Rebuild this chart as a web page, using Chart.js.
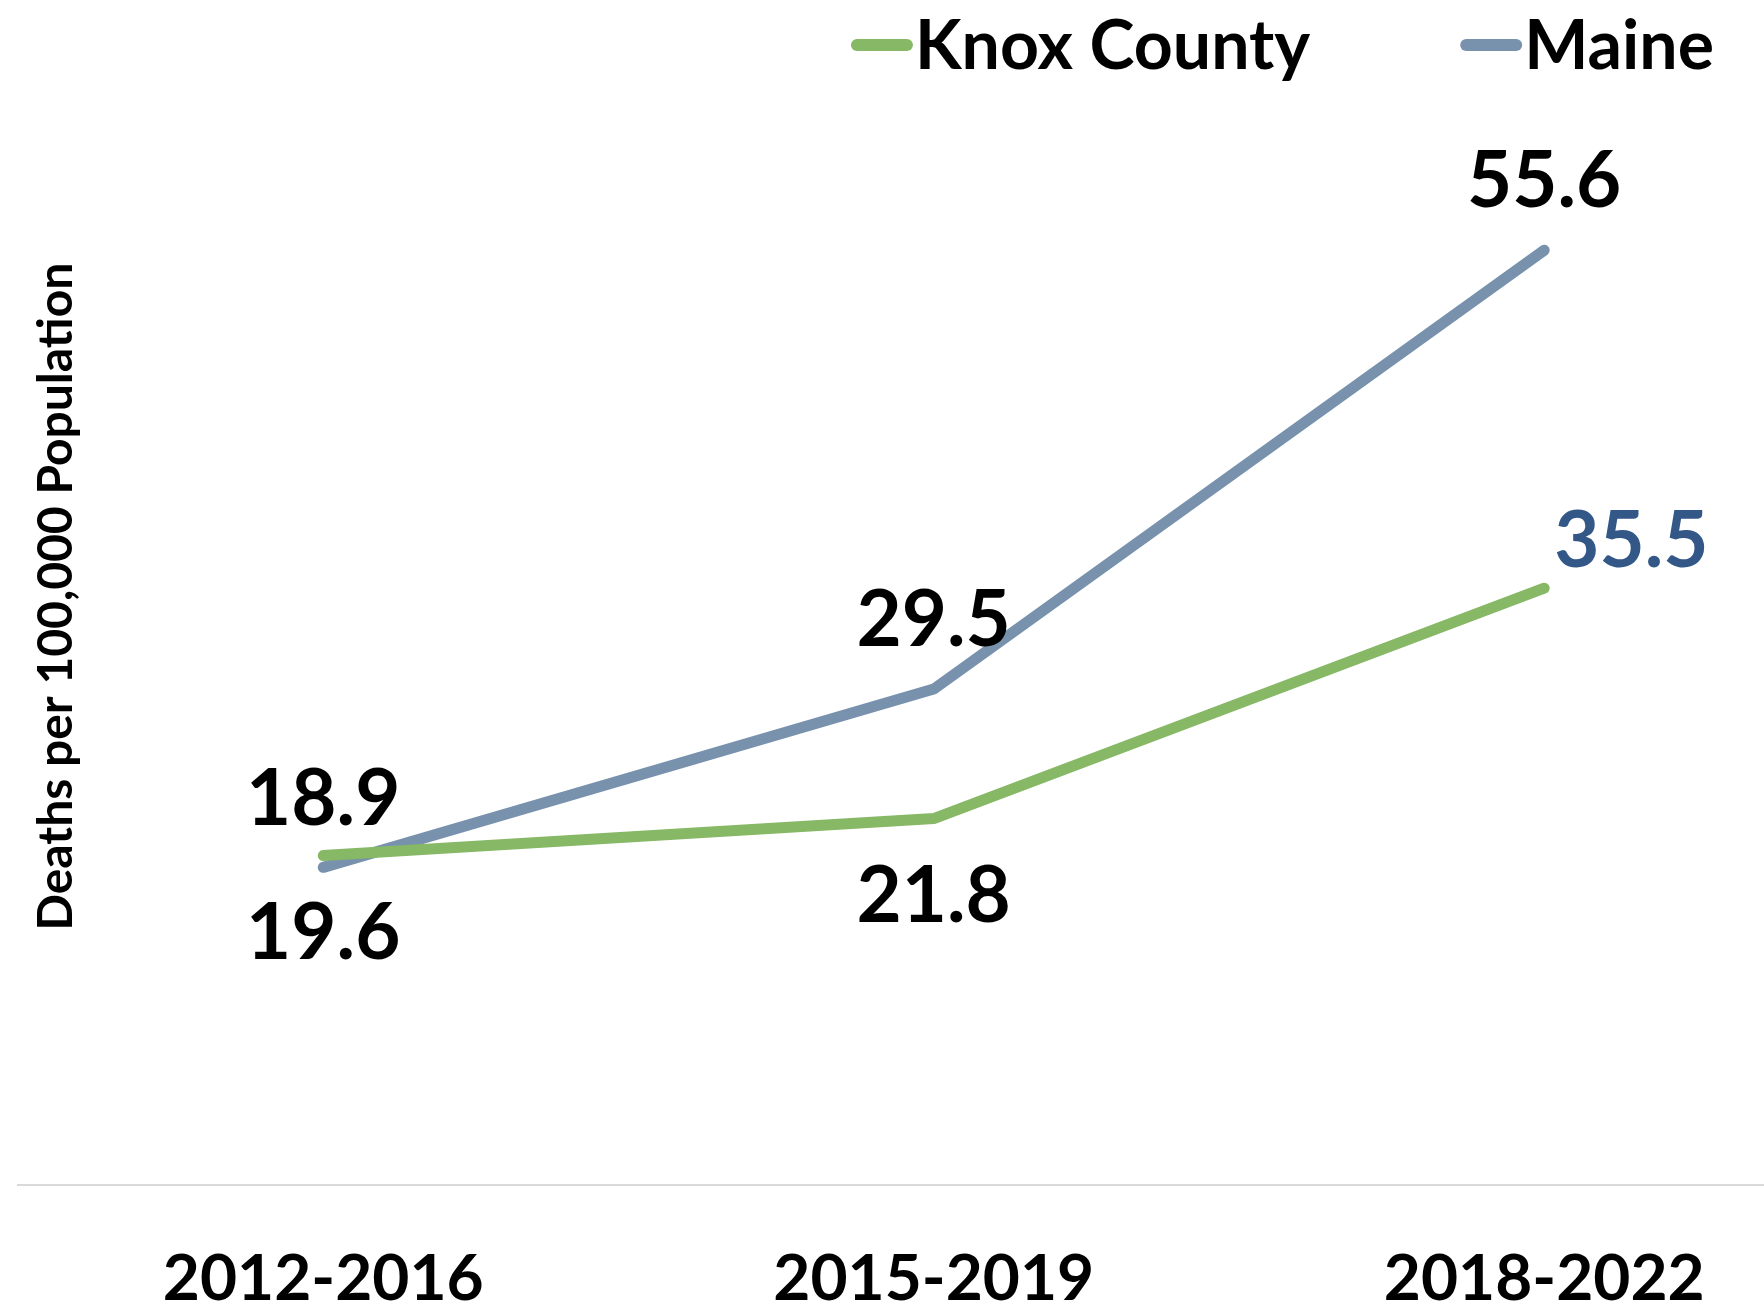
<!DOCTYPE html>
<html>
<head>
<meta charset="utf-8">
<script src="https://cdn.jsdelivr.net/npm/chart.js@4/dist/chart.umd.min.js"></script>
<style>
  html, body { margin: 0; padding: 0; background: #fff; overflow: hidden; }
  #wrap { width: 1764px; height: 1311px; }
</style>
</head>
<body>
<div id="wrap"><canvas id="chart-overdose"></canvas></div>
<script>
const periods = ["2012-2016", "2015-2019", "2018-2022"];
const knoxValues = [19.6, 21.8, 35.5];
const maineValues = [18.9, 29.5, 55.6];
const yMax = 70;

// where each point's value label sits relative to the point
const knoxLabelPos = ["below", "below", "right"];
const maineLabelPos = ["above", "above", "above"];

const fontFamily = "Lato, 'Open Sans', sans-serif";
const green = "#86b865";
const slate = "#7892ad";

const toPoints = (vals) => vals.map((v, i) => ({ x: i, y: v }));

// value labels drawn next to each point
const valueLabels = {
  id: "valueLabels",
  afterDatasetsDraw(chart) {
    const ctx = chart.ctx;
    ctx.save();
    ctx.font = "bold 78px " + fontFamily;
    ctx.textBaseline = "middle";
    chart.data.datasets.forEach((ds, di) => {
      const meta = chart.getDatasetMeta(di);
      meta.data.forEach((pt, i) => {
        const pos = ds.labelPos[i];
        const text = ds.data[i].y.toFixed(1);
        let x = pt.x, y = pt.y;
        ctx.textAlign = "center";
        ctx.fillStyle = "#000";
        if (pos === "above") y -= 68;
        else if (pos === "below") y += 78;
        else {
          ctx.textAlign = "left";
          ctx.fillStyle = "#335888";
          x += 10;
          y -= 46;
        }
        ctx.fillText(text, x, y);
      });
    });
    ctx.restore();
  },
};

// y title laid over the left edge of the plot, plus the legend in the top right
const overlay = {
  id: "overlay",
  afterDraw(chart) {
    const ctx = chart.ctx;
    const area = chart.chartArea;
    ctx.save();
    ctx.translate(area.left + 39, (area.top + area.bottom) / 2);
    ctx.rotate(-Math.PI / 2);
    ctx.font = "bold 48px " + fontFamily;
    ctx.fillStyle = "#000";
    ctx.textAlign = "center";
    ctx.textBaseline = "middle";
    ctx.fillText("Deaths per 100,000 Population", 0, 0);
    ctx.restore();

    ctx.save();
    ctx.font = "bold 68px " + fontFamily;
    ctx.textBaseline = "middle";
    ctx.textAlign = "left";
    const lineLen = 62, gap = 2, itemGap = 150, yMid = 45;
    const items = chart.data.datasets.map((ds) => ({
      label: ds.label,
      color: ds.borderColor,
      w: lineLen + gap + ctx.measureText(ds.label).width,
    }));
    let x = chart.width - 50 - items.reduce((s, it) => s + it.w, 0) - itemGap * (items.length - 1);
    items.forEach((it) => {
      ctx.strokeStyle = it.color;
      ctx.lineWidth = 12;
      ctx.lineCap = "round";
      ctx.beginPath();
      ctx.moveTo(x + 6, yMid);
      ctx.lineTo(x + lineLen - 6, yMid);
      ctx.stroke();
      ctx.fillStyle = "#000";
      ctx.fillText(it.label, x + lineLen + gap, yMid + 2);
      x += it.w + itemGap;
    });
    ctx.restore();
  },
};

new Chart(document.getElementById("chart-overdose"), {
  type: "line",
  data: {
    datasets: [
      {
        label: "Knox County",
        data: toPoints(knoxValues),
        labelPos: knoxLabelPos,
        borderColor: green,
        backgroundColor: green,
        borderWidth: 11,
        borderCapStyle: "round",
        borderJoinStyle: "round",
        pointRadius: 0,
        tension: 0,
      },
      {
        label: "Maine",
        data: toPoints(maineValues),
        labelPos: maineLabelPos,
        borderColor: slate,
        backgroundColor: slate,
        borderWidth: 11,
        borderCapStyle: "round",
        borderJoinStyle: "round",
        pointRadius: 0,
        tension: 0,
      },
    ],
  },
  options: {
    responsive: true,
    maintainAspectRatio: false,
    animation: false,
    layout: { padding: { left: 18, right: 0, top: 8, bottom: -63 } },
    plugins: {
      legend: { display: false },
      tooltip: { enabled: false },
    },
    scales: {
      x: {
        type: "linear",
        min: -0.5,
        max: 2.36,
        afterBuildTicks: (scale) => {
          scale.ticks = periods.map((p, i) => ({ value: i }));
        },
        ticks: {
          color: "#000",
          font: { family: fontFamily, size: 64, weight: "bold" },
          padding: 56,
          maxRotation: 0,
          autoSkip: false,
          callback: (v) => periods[v],
        },
        grid: { display: false, drawTicks: false },
        border: { display: true, color: "#d9d9d9", width: 2 },
      },
      y: {
        display: false,
        min: 0,
        max: yMax,
      },
    },
  },
  plugins: [valueLabels, overlay],
});
</script>
</body>
</html>
